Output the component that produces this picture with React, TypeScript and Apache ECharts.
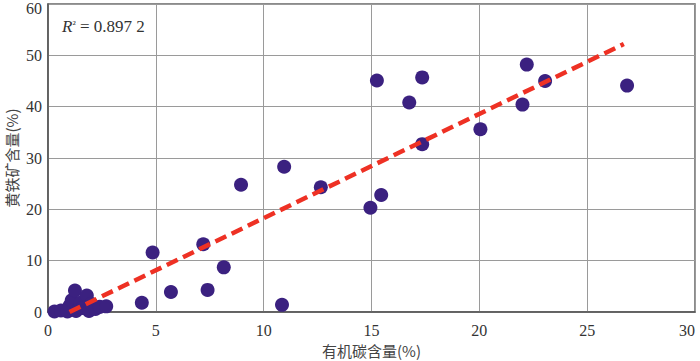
import React, { useEffect, useRef } from "react";
import * as echarts from "echarts";

const xTicks = [0, 5, 10, 15, 20, 25, 30];
const yTicks = [0, 10, 20, 30, 40, 50, 60];

const tocValues = [
  0.3, 0.6, 0.9, 1.0, 1.1, 1.25, 1.3, 1.5, 1.6, 1.8, 1.9, 2.0, 2.2, 2.4, 2.7,
  4.35, 4.85, 5.7, 7.2, 7.4, 8.15, 8.95, 10.85, 10.95, 12.65, 14.95, 15.45,
  15.25, 16.75, 17.35, 17.35, 20.05, 22.0, 22.2, 23.05, 26.85,
];
const pyriteValues = [
  0.1, 0.3, 0.1, 1.2, 2.3, 4.2, 0.2, 1.8, 0.8, 3.2, 0.2, 1.6, 0.6, 1.0, 1.1,
  1.8, 11.6, 3.9, 13.2, 4.3, 8.7, 24.8, 1.4, 28.3, 24.3, 20.3, 22.8,
  45.1, 40.8, 32.7, 45.7, 35.6, 40.4, 48.2, 45.0, 44.1,
];
const trendX = [1.0, 26.7];
const trendY = [0.0, 52.2];
const r2Label = "0.897 2";
const xName = "有机碳含量(%)";
const yName = "黄铁矿含量(%)";

export default function App() {
  const ref = useRef<HTMLDivElement>(null);
  useEffect(() => {
    if (!ref.current) return;
    const chart = echarts.init(ref.current, undefined, { renderer: "svg" });
    const points = tocValues.map((x, i) => [x, pyriteValues[i]]);
    const trend = trendX.map((x, i) => [x, trendY[i]]);
    const font = "Liberation Serif";
    const cjk = "Noto Sans CJK SC";
    const yMax = yTicks[yTicks.length - 1];
    chart.setOption({
      animation: false,
      backgroundColor: "#ffffff",
      grid: {
        left: 48,
        right: 5,
        top: 4,
        bottom: 49,
        show: true,
        borderColor: "#666",
        borderWidth: 1.5,
        outerBoundsMode: "none",
        containLabel: false,
      },
      xAxis: {
        type: "value",
        min: xTicks[0],
        max: xTicks[xTicks.length - 1],
        interval: 5,
        name: xName,
        nameLocation: "middle",
        nameGap: 31,
        nameMoveOverlap: false,
        nameTextStyle: { fontFamily: cjk, fontSize: 15, color: "#444" },
        axisLine: { show: true, lineStyle: { color: "#555", width: 1.5 } },
        axisTick: { show: false },
        axisLabel: {
          fontFamily: font,
          fontSize: 16,
          color: "#333",
          margin: 10,
          alignMaxLabel: "right",
        },
        splitLine: { show: true, lineStyle: { color: "#9a9a9a", width: 1 } },
      },
      yAxis: {
        type: "value",
        min: yTicks[0],
        max: yMax,
        interval: 10,
        name: yName,
        nameLocation: "middle",
        nameGap: 29,
        nameMoveOverlap: false,
        nameTextStyle: { fontFamily: cjk, fontSize: 15, color: "#444" },
        axisLine: { show: true, lineStyle: { color: "#555", width: 1.5 } },
        axisTick: { show: false },
        axisLabel: {
          fontFamily: font,
          fontSize: 16,
          color: "#333",
          margin: 6,
          formatter: (v: number) => (v === yMax ? "{t|" + v + "}" : String(v)),
          rich: {
            t: {
              fontFamily: font,
              fontSize: 16,
              color: "#333",
              padding: [8, 0, 0, 0],
            },
          },
        },
        splitLine: { show: true, lineStyle: { color: "#9a9a9a", width: 1 } },
      },
      graphic: [
        {
          type: "text",
          left: 62,
          top: 18,
          style: {
            text: "{i|R}{s|²} = " + r2Label,
            rich: {
              i: { fontFamily: font, fontSize: 17, fontStyle: "italic", fill: "#333" },
              s: { fontFamily: font, fontSize: 11, fill: "#333", verticalAlign: "top" },
            },
            fontFamily: font,
            fontSize: 17,
            fill: "#333",
          },
        },
      ],
      series: [
        {
          type: "scatter",
          data: points,
          symbol: "circle",
          symbolSize: 14,
          itemStyle: { color: "#3b2180", opacity: 1 },
          z: 2,
        },
        {
          type: "line",
          data: trend,
          symbol: "none",
          lineStyle: { color: "#ee3124", width: 4.5, type: [12, 6] },
          z: 3,
        },
      ],
    });
    return () => chart.dispose();
  }, []);
  return (
    <div
      ref={ref}
      style={{ position: "fixed", left: 0, top: 0, width: 700, height: 361 }}
    />
  );
}
